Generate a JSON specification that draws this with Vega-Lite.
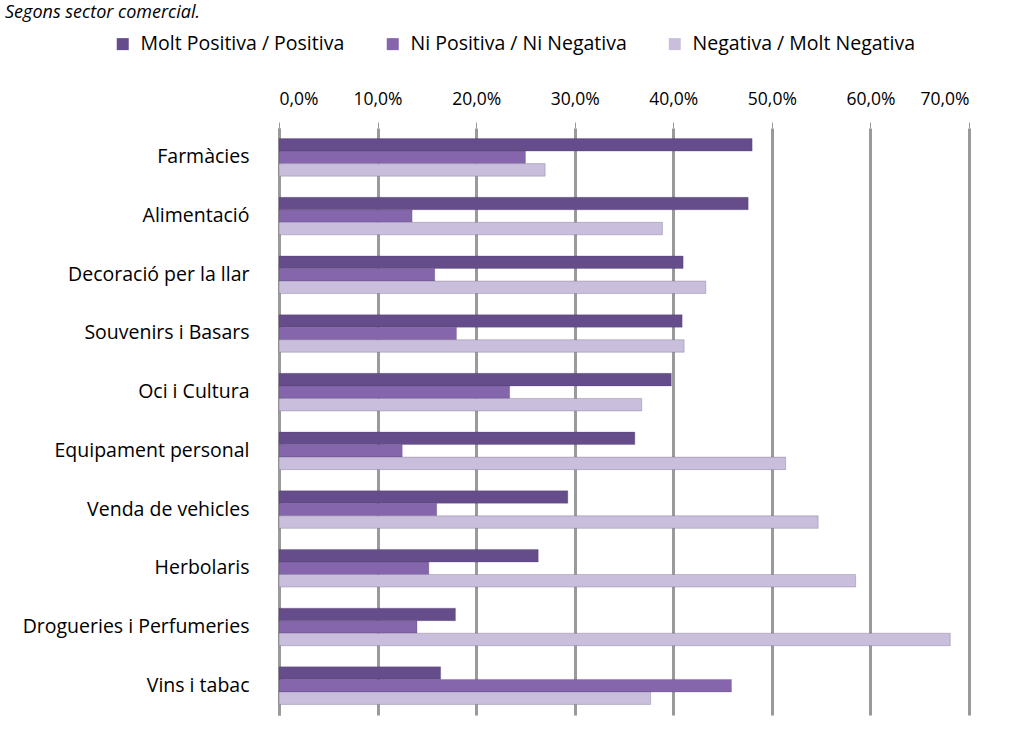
{
  "$schema": "https://vega.github.io/schema/vega-lite/v6.json",
  "width": 690,
  "height": 587,
  "autosize": {"type": "none"},
  "padding": {"left": 279, "top": 128, "right": 44, "bottom": 16},
  "background": "white",
  "config": {
    "locale": {"number": {"decimal": ",", "thousands": ".", "grouping": [3], "currency": ["", " €"]}},
    "font": "Open Sans",
    "view": {"stroke": null}
  },
  "title": {
    "text": "Segons sector comercial.",
    "anchor": "start",
    "frame": "group",
    "orient": "top",
    "baseline": "bottom",
    "font": "Open Sans",
    "fontSize": 18,
    "fontStyle": "italic",
    "fontWeight": "normal",
    "color": "#000000",
    "dx": -274,
    "dy": 26,
    "offset": 20
  },
  "data": {
    "values": [
      {"sector": "Farmàcies", "serie": "Molt Positiva / Positiva", "valor": 0.480},
      {"sector": "Farmàcies", "serie": "Ni Positiva / Ni Negativa", "valor": 0.250},
      {"sector": "Farmàcies", "serie": "Negativa / Molt Negativa", "valor": 0.270},
      {"sector": "Alimentació", "serie": "Molt Positiva / Positiva", "valor": 0.476},
      {"sector": "Alimentació", "serie": "Ni Positiva / Ni Negativa", "valor": 0.135},
      {"sector": "Alimentació", "serie": "Negativa / Molt Negativa", "valor": 0.389},
      {"sector": "Decoració per la llar", "serie": "Molt Positiva / Positiva", "valor": 0.410},
      {"sector": "Decoració per la llar", "serie": "Ni Positiva / Ni Negativa", "valor": 0.158},
      {"sector": "Decoració per la llar", "serie": "Negativa / Molt Negativa", "valor": 0.433},
      {"sector": "Souvenirs i Basars", "serie": "Molt Positiva / Positiva", "valor": 0.409},
      {"sector": "Souvenirs i Basars", "serie": "Ni Positiva / Ni Negativa", "valor": 0.180},
      {"sector": "Souvenirs i Basars", "serie": "Negativa / Molt Negativa", "valor": 0.411},
      {"sector": "Oci i Cultura", "serie": "Molt Positiva / Positiva", "valor": 0.398},
      {"sector": "Oci i Cultura", "serie": "Ni Positiva / Ni Negativa", "valor": 0.234},
      {"sector": "Oci i Cultura", "serie": "Negativa / Molt Negativa", "valor": 0.368},
      {"sector": "Equipament personal", "serie": "Molt Positiva / Positiva", "valor": 0.361},
      {"sector": "Equipament personal", "serie": "Ni Positiva / Ni Negativa", "valor": 0.125},
      {"sector": "Equipament personal", "serie": "Negativa / Molt Negativa", "valor": 0.514},
      {"sector": "Venda de vehicles", "serie": "Molt Positiva / Positiva", "valor": 0.293},
      {"sector": "Venda de vehicles", "serie": "Ni Positiva / Ni Negativa", "valor": 0.160},
      {"sector": "Venda de vehicles", "serie": "Negativa / Molt Negativa", "valor": 0.547},
      {"sector": "Herbolaris", "serie": "Molt Positiva / Positiva", "valor": 0.263},
      {"sector": "Herbolaris", "serie": "Ni Positiva / Ni Negativa", "valor": 0.152},
      {"sector": "Herbolaris", "serie": "Negativa / Molt Negativa", "valor": 0.585},
      {"sector": "Drogueries i Perfumeries", "serie": "Molt Positiva / Positiva", "valor": 0.179},
      {"sector": "Drogueries i Perfumeries", "serie": "Ni Positiva / Ni Negativa", "valor": 0.140},
      {"sector": "Drogueries i Perfumeries", "serie": "Negativa / Molt Negativa", "valor": 0.681},
      {"sector": "Vins i tabac", "serie": "Molt Positiva / Positiva", "valor": 0.164},
      {"sector": "Vins i tabac", "serie": "Ni Positiva / Ni Negativa", "valor": 0.459},
      {"sector": "Vins i tabac", "serie": "Negativa / Molt Negativa", "valor": 0.377}
    ]
  },
  "mark": {"type": "bar", "stroke": "#4a3a62", "strokeWidth": 0.5, "strokeOpacity": 0.5},
  "encoding": {
    "y": {
      "field": "sector",
      "type": "nominal",
      "sort": null,
      "scale": {"paddingInner": 0.36, "paddingOuter": 0.18},
      "axis": {
        "title": null,
        "ticks": false,
        "domain": true,
        "domainColor": "#9a9a9a",
        "domainWidth": 3,
        "labelFont": "Open Sans",
        "labelFontSize": 19.5,
        "labelColor": "#000000",
        "labelPadding": 30,
        "labelLimit": 400
      }
    },
    "yOffset": {
      "field": "serie",
      "type": "nominal",
      "sort": ["Molt Positiva / Positiva", "Ni Positiva / Ni Negativa", "Negativa / Molt Negativa"]
    },
    "x": {
      "field": "valor",
      "type": "quantitative",
      "scale": {"domain": [0, 0.7], "nice": false, "zero": true},
      "axis": {
        "orient": "top",
        "title": null,
        "format": ".1%",
        "values": [0, 0.1, 0.2, 0.3, 0.4, 0.5, 0.6, 0.7],
        "domain": false,
        "ticks": true,
        "tickColor": "#9a9a9a",
        "tickSize": 6,
        "grid": true,
        "gridColor": "#9a9a9a",
        "gridWidth": 3,
        "labelFont": "Open Sans",
        "labelFontSize": 17.5,
        "labelColor": "#000000",
        "labelPadding": 14
      }
    },
    "color": {
      "field": "serie",
      "type": "nominal",
      "sort": ["Molt Positiva / Positiva", "Ni Positiva / Ni Negativa", "Negativa / Molt Negativa"],
      "scale": {
        "domain": ["Molt Positiva / Positiva", "Ni Positiva / Ni Negativa", "Negativa / Molt Negativa"],
        "range": ["#654c8a", "#8566ad", "#c9bedb"]
      },
      "legend": {
        "title": null,
        "orient": "none",
        "direction": "horizontal",
        "legendX": -166,
        "legendY": -94,
        "symbolType": "square",
        "symbolSize": 144,
        "symbolStrokeWidth": 0,
        "labelFont": "Open Sans",
        "labelFontSize": 19.5,
        "labelColor": "#000000",
        "labelOffset": 8,
        "columnPadding": 38,
        "labelLimit": 400
      }
    }
  }
}
